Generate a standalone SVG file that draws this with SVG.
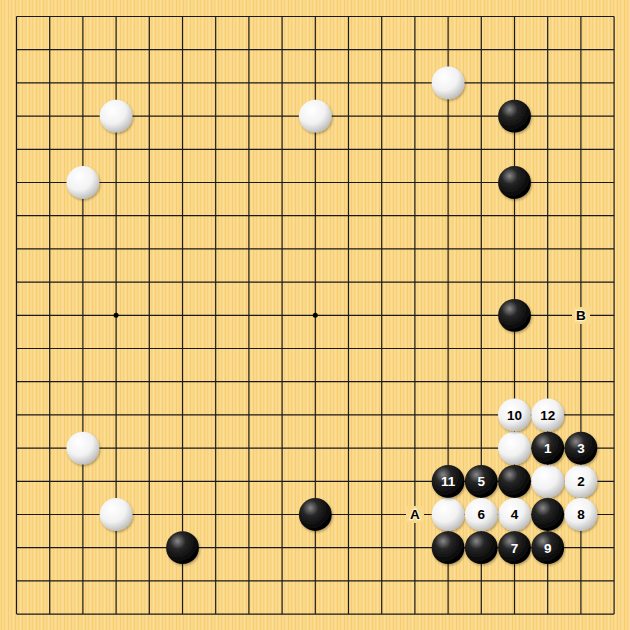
<svg xmlns="http://www.w3.org/2000/svg" width="630" height="630" viewBox="0 0 630 630">
<defs>
<pattern id="wood" width="7" height="630" patternUnits="userSpaceOnUse">
<rect width="7" height="630" fill="#FAD98A"/>
<rect x="1" width="1" height="630" fill="#F6CC6E"/>
<rect x="4" width="1.2" height="630" fill="#F8D27B"/>
<rect x="6" width="0.8" height="630" fill="#FCE0A0"/>
</pattern>
<radialGradient id="gb" cx="0.35" cy="0.3" r="0.7">
<stop offset="0" stop-color="#888"/>
<stop offset="0.35" stop-color="#262626"/>
<stop offset="1" stop-color="#000"/>
</radialGradient>
<radialGradient id="gw" cx="0.38" cy="0.32" r="0.75">
<stop offset="0" stop-color="#fff"/>
<stop offset="0.55" stop-color="#f2f2f2"/>
<stop offset="1" stop-color="#b5b5b5"/>
</radialGradient>
<filter id="sh" x="-20%" y="-20%" width="150%" height="150%">
<feDropShadow dx="1" dy="1.5" stdDeviation="1" flood-color="#000" flood-opacity="0.3"/>
</filter>
<style>
.g{stroke:#1a1a1a;stroke-width:1.2}
.b{fill:url(#gb);filter:url(#sh)}
.w{fill:url(#gw);filter:url(#sh)}
.t{font-family:"Liberation Sans",Arial,sans-serif;font-size:13.5px;font-weight:bold;text-anchor:middle}
.tb{fill:#fff}
.tw{fill:#000}
.lbl{font-family:"Liberation Sans",Arial,sans-serif;font-size:13.5px;font-weight:bold;text-anchor:middle;fill:#000;stroke:#FFF3C8;stroke-width:2.5;paint-order:stroke}
</style>
</defs>
<rect width="630" height="630" fill="url(#wood)"/>
<g id="grid" class="g">
<path d="M16.5 16.5V614.1M49.7 16.5V614.1M82.9 16.5V614.1M116.1 16.5V614.1M149.3 16.5V614.1M182.5 16.5V614.1M215.7 16.5V614.1M248.9 16.5V614.1M282.1 16.5V614.1M315.3 16.5V614.1M348.5 16.5V614.1M381.7 16.5V614.1M414.9 16.5V614.1M448.1 16.5V614.1M481.3 16.5V614.1M514.5 16.5V614.1M547.7 16.5V614.1M580.9 16.5V614.1M614.1 16.5V614.1"/>
<path d="M16.5 16.5H614.1M16.5 49.7H614.1M16.5 82.9H614.1M16.5 116.1H614.1M16.5 149.3H614.1M16.5 182.5H614.1M16.5 215.7H614.1M16.5 248.9H614.1M16.5 282.1H614.1M16.5 315.3H614.1M16.5 348.5H614.1M16.5 381.7H614.1M16.5 414.9H614.1M16.5 448.1H614.1M16.5 481.3H614.1M16.5 514.5H614.1M16.5 547.7H614.1M16.5 580.9H614.1M16.5 614.1H614.1"/>
</g>
<g id="stars" fill="#000">
<circle cx="116.1" cy="315.3" r="2.5"/>
<circle cx="315.3" cy="315.3" r="2.5"/>
</g>
<g id="labels">
<rect x="406" y="506" width="18" height="17" fill="#FAD98A"/>
<text class="lbl" x="414.9" y="519.3">A</text>
<rect x="572" y="307" width="18" height="17" fill="#FAD98A"/>
<text class="lbl" x="580.9" y="320.1">B</text>
</g>
<g id="stones">
<circle class="w" cx="448.1" cy="82.9" r="16.4"/>
<circle class="w" cx="116.1" cy="116.1" r="16.4"/>
<circle class="w" cx="315.3" cy="116.1" r="16.4"/>
<circle class="b" cx="514.5" cy="116.1" r="16.4"/>
<circle class="w" cx="82.9" cy="182.5" r="16.4"/>
<circle class="b" cx="514.5" cy="182.5" r="16.4"/>
<circle class="b" cx="514.5" cy="315.3" r="16.4"/>
<circle class="w" cx="82.9" cy="448.1" r="16.4"/>
<circle class="w" cx="514.5" cy="448.1" r="16.4"/>
<circle class="b" cx="514.5" cy="481.3" r="16.4"/>
<circle class="w" cx="547.7" cy="481.3" r="16.4"/>
<circle class="w" cx="116.1" cy="514.5" r="16.4"/>
<circle class="b" cx="315.3" cy="514.5" r="16.4"/>
<circle class="w" cx="448.1" cy="514.5" r="16.4"/>
<circle class="b" cx="547.7" cy="514.5" r="16.4"/>
<circle class="b" cx="182.5" cy="547.7" r="16.4"/>
<circle class="b" cx="448.1" cy="547.7" r="16.4"/>
<circle class="b" cx="481.3" cy="547.7" r="16.4"/>
</g>
<g id="move1"><circle class="b" cx="547.7" cy="448.1" r="16.4"/><text class="t tb" x="547.7" y="452.9">1</text></g>
<g id="move2"><circle class="w" cx="580.9" cy="481.3" r="16.4"/><text class="t tw" x="580.9" y="486.1">2</text></g>
<g id="move3"><circle class="b" cx="580.9" cy="448.1" r="16.4"/><text class="t tb" x="580.9" y="452.9">3</text></g>
<g id="move4"><circle class="w" cx="514.5" cy="514.5" r="16.4"/><text class="t tw" x="514.5" y="519.3">4</text></g>
<g id="move5"><circle class="b" cx="481.3" cy="481.3" r="16.4"/><text class="t tb" x="481.3" y="486.1">5</text></g>
<g id="move6"><circle class="w" cx="481.3" cy="514.5" r="16.4"/><text class="t tw" x="481.3" y="519.3">6</text></g>
<g id="move7"><circle class="b" cx="514.5" cy="547.7" r="16.4"/><text class="t tb" x="514.5" y="552.5">7</text></g>
<g id="move8"><circle class="w" cx="580.9" cy="514.5" r="16.4"/><text class="t tw" x="580.9" y="519.3">8</text></g>
<g id="move9"><circle class="b" cx="547.7" cy="547.7" r="16.4"/><text class="t tb" x="547.7" y="552.5">9</text></g>
<g id="move10"><circle class="w" cx="514.5" cy="414.9" r="16.4"/><text class="t tw" x="514.5" y="419.7">10</text></g>
<g id="move11"><circle class="b" cx="448.1" cy="481.3" r="16.4"/><text class="t tb" x="448.1" y="486.1">11</text></g>
<g id="move12"><circle class="w" cx="547.7" cy="414.9" r="16.4"/><text class="t tw" x="547.7" y="419.7">12</text></g>
</svg>
